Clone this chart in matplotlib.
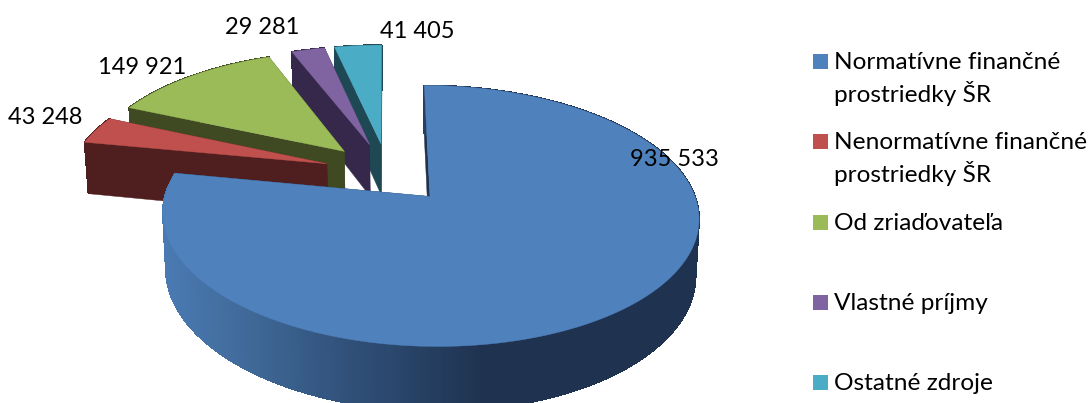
import numpy as np
import matplotlib
matplotlib.use("Agg")
import matplotlib.pyplot as plt
from matplotlib.colors import LinearSegmentedColormap
from matplotlib.patches import Polygon, Rectangle

# Data
categories = ["Normatívne finančné\nprostriedky ŠR", "Nenormatívne finančné\nprostriedky ŠR",
              "Od zriaďovateľa", "Vlastné príjmy", "Ostatné zdroje"]
values = [935533, 43248, 149921, 29281, 41405]
top_colors = ["#4f81bd", "#c0504d", "#9bbb59", "#8064a2", "#4bacc6"]
side_colors = ["#1f3350", "#4f1f1f", "#3f4a22", "#35284a", "#1f4855"]
value_label_pos = [(674, 160), (45, 118), (142, 67), (262, 27), (417, 32)]

# Camera settings for the tilted pie (pixels)
Xc, Yc = 430, 196.5
A, B = 265, 127.6
k = 0.149
g = -6.5
D = 55
Xv = 410
shrink = 0.988
explode = 0.25

plt.rcParams['font.family'] = ['Lato', 'DejaVu Sans']


def project(u, v, low=False):
    u, v = np.asarray(u, float), np.asarray(v, float)
    s = 1 / (1 + k * v)
    x = Xc + (A * u + g * v) * s
    y = Yc - B * v * s
    if low:
        x = Xv + (x - Xv) * shrink
        y = y + D * s
    return np.column_stack([np.atleast_1d(x), np.atleast_1d(y)])


fig = plt.figure(figsize=(10.92, 4.03), dpi=100)
ax = fig.add_axes([0, 0, 1, 1])
ax.set_xlim(0, 1092)
ax.set_ylim(403, 0)
ax.axis("off")

# Angles run clockwise from the top, as in the original
fractions = np.array(values) / sum(values)
edges = np.concatenate([[0], np.cumsum(fractions)]) * 2 * np.pi

# The blue slice sits at the origin, everything else moves out from the shared centre
blue_mid = (edges[0] + edges[1]) / 2
cu = -explode * np.sin(blue_mid)
cv = -explode * np.cos(blue_mid)

wall_cmap = LinearSegmentedColormap.from_list(
    "wall", [(0, "#4a7ab2"), (0.25, "#3f6896"), (0.5, "#31527c"), (0.9, "#1f3350"), (1, "#1f3350")])

# Painter's order: back slices first, blue last
for i in [4, 3, 2, 1, 0]:
    a0, a1 = edges[i], edges[i + 1]
    mid = (a0 + a1) / 2
    ou = cu + explode * np.sin(mid)
    ov = cv + explode * np.cos(mid)
    ang = np.linspace(a0, a1, 400)
    au = ou + np.sin(ang)
    av = ov + np.cos(ang)

    # radial faces
    for a in (a0, a1):
        eu, ev = ou + np.sin(a), ov + np.cos(a)
        line_u, line_v = np.array([ou, eu]), np.array([ov, ev])
        top = project(line_u, line_v)
        low = project(line_u, line_v, low=True)
        ax.add_patch(Polygon(np.vstack([top, low[::-1]]), closed=True,
                             facecolor=side_colors[i], edgecolor=side_colors[i], linewidth=0.3))

    # outer wall, shaded strip by strip
    top = project(au, av)
    low = project(au, av, low=True)
    for j in range(len(ang) - 1):
        if i == 0:
            t = np.clip((top[j, 0] - 165) / (520 - 165), 0, 1)
            c = wall_cmap(t)
        else:
            c = side_colors[i]
        ax.add_patch(Polygon([top[j], top[j + 1], low[j + 1], low[j]], closed=True,
                             facecolor=c, edgecolor=c, linewidth=0.6, antialiased=False))

    # top face
    apex = project([ou], [ov])
    ax.add_patch(Polygon(np.vstack([apex, top]), closed=True,
                         facecolor=top_colors[i], edgecolor=top_colors[i], linewidth=0.3))

# Value labels
for v, (x, y) in zip(values, value_label_pos):
    ax.text(x, y, f"{v:,}".replace(",", " "), fontsize=17, color="#000000",
            ha="center", va="center")

# Legend
legend_top = 61.5
legend_step = 80.3
for i, name in enumerate(categories):
    yc = legend_top + i * legend_step
    ax.add_patch(Rectangle((813, yc - 7.5), 15, 15, facecolor=top_colors[i], edgecolor="none"))
    ax.text(834, yc - 9.5, name, fontsize=17.6, color="#000000", ha="left", va="top",
            linespacing=1.36)

fig.savefig("out.png", dpi=100)
